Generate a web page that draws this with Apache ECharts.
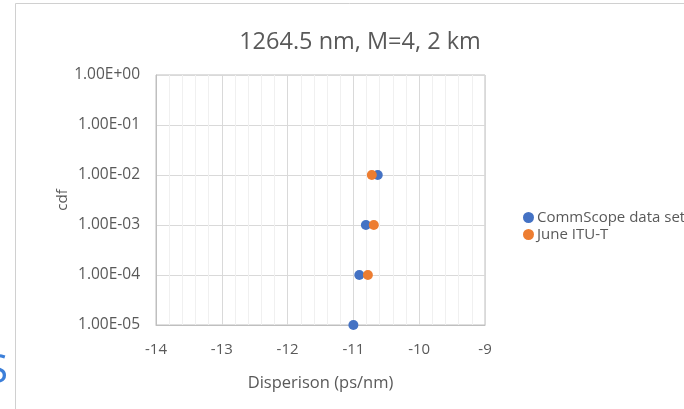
<!DOCTYPE html>
<html><head><meta charset="utf-8">
<script src="https://cdn.jsdelivr.net/npm/echarts@6/dist/echarts.min.js"></script>
<style>html,body{margin:0;padding:0;background:#fff}#c{width:684px;height:409px}</style>
</head><body><div id="c"></div>
<script>
const titleText = "1264.5 nm, M=4, 2 km";
const xTicks = [-14, -13, -12, -11, -10, -9];
const yTicks = [1, 1e-1, 1e-2, 1e-3, 1e-4, 1e-5];
const commscopeX = [-11.0, -10.91, -10.81, -10.63];
const commscopeY = [1e-5, 1e-4, 1e-3, 1e-2];
const ituX = [-10.78, -10.69, -10.72];
const ituY = [1e-4, 1e-3, 1e-2];
const seriesNames = ["CommScope data set", "June ITU-T"];

const font = "'Open Sans', 'Noto Sans', sans-serif";
function fmtY(v){
  const e = Math.round(Math.log10(v));
  const s = e < 0 ? '-' : '+';
  const a = Math.abs(e);
  return '1.00E' + s + (a < 10 ? '0' + a : a);
}
const chart = echarts.init(document.getElementById('c'), null, {renderer:'canvas'});
chart.setOption({
  animation:false,
  backgroundColor:'#fff',
  title:{text:titleText,left:355,top:25,textAlign:'center',
    textStyle:{fontFamily:font,fontSize:23.5,fontWeight:'normal',color:'#595959'}},
  grid:{left:156,top:75,width:329,height:250,containLabel:false},
  legend:{orient:'vertical',left:518,top:205,itemWidth:11,itemHeight:11,itemGap:2,
    icon:'circle',textStyle:{fontFamily:font,fontSize:15,color:'#595959',padding:[0,0,0,-2]},
    data:seriesNames},
  xAxis:{type:'value',min:xTicks[0],max:xTicks[xTicks.length-1],interval:1,
    name:'Disperison (ps/nm)',nameLocation:'middle',nameGap:50,
    nameTextStyle:{fontFamily:font,fontSize:16.5,color:'#595959'},
    axisLine:{show:true,lineStyle:{color:'#bfbfbf'}},axisTick:{show:false},
    axisLabel:{fontFamily:font,fontSize:15,color:'#595959',margin:17},
    splitLine:{show:true,lineStyle:{color:'#d9d9d9'}},
    minorTick:{show:false,splitNumber:5},
    minorSplitLine:{show:true,lineStyle:{color:'#f0f0f0'}}},
  yAxis:{type:'log',logBase:10,min:yTicks[yTicks.length-1],max:yTicks[0],
    name:'cdf',nameLocation:'middle',nameGap:86,
    nameTextStyle:{fontFamily:font,fontSize:15,color:'#595959'},
    axisLine:{show:true,lineStyle:{color:'#bfbfbf'}},axisTick:{show:false},
    axisLabel:{fontFamily:font,fontSize:15.5,color:'#595959',margin:16,formatter:fmtY},
    splitLine:{show:true,lineStyle:{color:'#d9d9d9'}}},
  series:[
    {name:seriesNames[0],type:'scatter',symbolSize:10,itemStyle:{color:'#4472C4',opacity:1},
      data:commscopeX.map((x,i)=>[x,commscopeY[i]])},
    {name:seriesNames[1],type:'scatter',symbolSize:10,itemStyle:{color:'#ED7D31',opacity:1},
      data:ituX.map((x,i)=>[x,ituY[i]])}
  ],
  graphic:[
    {type:'rect',shape:{x:156,y:75,width:329,height:250},style:{fill:'none',stroke:'#bfbfbf',lineWidth:1},z:-1},
    {type:'line',shape:{x1:15.5,y1:3.5,x2:684,y2:3.5},style:{stroke:'#d0d0d0',lineWidth:1}},
    {type:'line',shape:{x1:15.5,y1:3.5,x2:15.5,y2:409},style:{stroke:'#d0d0d0',lineWidth:1}},
    {type:'text',left:-14,top:352,style:{text:'S',fontFamily:font,fontSize:40,fill:'#3c7fd9'}}
  ]
});
</script></body></html>
